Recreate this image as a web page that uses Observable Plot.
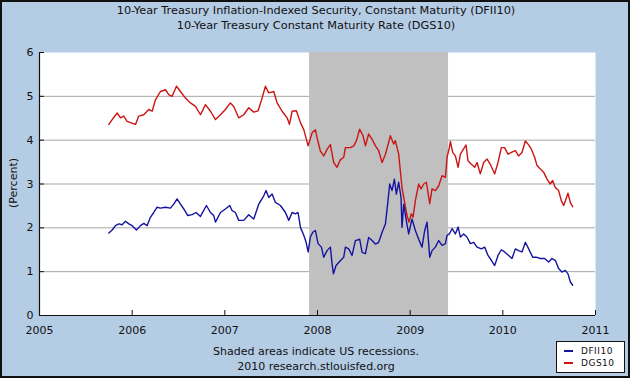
<!DOCTYPE html>
<html><head><meta charset="utf-8">
<script src="https://cdn.jsdelivr.net/npm/d3@7"></script>
<script src="https://cdn.jsdelivr.net/npm/@observablehq/plot@0.6"></script>
<style>
body{margin:0;background:#fff;}
#chart{position:relative;width:630px;height:378px;background:#B5CCE5;font-family:"DejaVu Sans",Verdana,sans-serif;overflow:hidden;color:#111;}
#chart svg{position:absolute;left:0;top:0;}
#border{position:absolute;left:0;top:0;width:630px;height:378px;box-sizing:border-box;border:2px solid #111;pointer-events:none;}
.title{position:absolute;left:0;width:632px;text-align:center;font-size:11.3px;white-space:nowrap;}
.foot{position:absolute;left:0;width:632px;text-align:center;font-size:11px;white-space:nowrap;}
#ylab{position:absolute;left:13px;top:183px;font-size:11px;transform:translate(-50%,-50%) rotate(-90deg);white-space:nowrap;}
#legend{position:absolute;left:556px;top:341px;width:69px;height:32px;box-sizing:border-box;background:#fff;border:1px solid #111;font-size:9px;}
#legend .row{position:absolute;left:0;height:12px;line-height:12px;}
#legend .sw{position:absolute;left:7px;top:5px;width:9px;height:2px;}
#legend .lt{position:absolute;left:24px;top:0;letter-spacing:0.5px;}
</style>
</head><body>
<div id="chart">
  <div class="title" style="top:4px">10-Year Treasury Inflation-Indexed Security, Constant Maturity (DFII10)</div>
  <div class="title" style="top:19px">10-Year Treasury Constant Maturity Rate (DGS10)</div>
  <div id="ylab">(Percent)</div>
  <div class="foot" style="top:345px">Shaded areas indicate US recessions.</div>
  <div class="foot" style="top:360px">2010 research.stlouisfed.org</div>
  <div id="legend">
    <div class="row" style="top:3px"><div class="sw" style="background:#1414A0"></div><div class="lt">DFII10</div></div>
    <div class="row" style="top:15px"><div class="sw" style="background:#CC1414"></div><div class="lt">DGS10</div></div>
  </div>
  <div id="border"></div>
</div>
<script>
const years = [2005, 2006, 2007, 2008, 2009, 2010, 2011];
const yTicks = [0, 1, 2, 3, 4, 5, 6];
const gridValues = [1, 2, 3, 4, 5];
const recessionStart = [2007.915];
const recessionEnd = [2009.414];

const dgs10Dates = [
2005.748,2005.784,2005.838,2005.874,2005.909,2005.946,2005.982,2006.036,2006.071,2006.125,2006.179,2006.216,2006.251,2006.305,2006.359,2006.395,2006.431,2006.478,2006.521,2006.575,2006.629,2006.683,2006.737,2006.791,2006.845,2006.899,2006.953,
2007.006,2007.060,2007.096,2007.150,2007.204,2007.258,2007.312,2007.359,2007.402,2007.438,2007.474,2007.528,2007.564,2007.618,2007.672,2007.697,2007.726,2007.772,2007.816,2007.852,2007.899,2007.942,2007.977,2007.996,2008.031,2008.067,2008.103,2008.139,
2008.175,2008.211,2008.246,2008.283,2008.301,2008.355,2008.391,2008.420,2008.455,2008.492,2008.517,2008.552,2008.589,2008.625,2008.660,2008.697,2008.733,2008.768,2008.786,2008.822,2008.840,2008.876,2008.894,2008.912,2008.937,2008.966,2008.988,2009.013,2009.031,2009.056,2009.092,2009.117,2009.146,2009.175,2009.211,2009.236,2009.272,2009.308,2009.344,
2009.380,2009.398,2009.423,2009.434,2009.459,2009.488,2009.517,2009.542,2009.577,2009.603,2009.624,2009.660,2009.696,2009.722,2009.757,2009.793,2009.830,2009.865,2009.912,2009.948,2009.984,2010.019,2010.056,2010.092,2010.135,2010.170,2010.207,2010.243,2010.272,2010.307,2010.343,2010.369,2010.405,2010.440,2010.477,2010.512,2010.537,2010.566,2010.602,2010.631,2010.656,2010.682,2010.703,2010.728,2010.753];
const dgs10Values = [
4.36,4.47,4.62,4.51,4.55,4.43,4.40,4.36,4.55,4.58,4.70,4.66,4.92,5.11,5.15,5.04,5.00,5.23,5.11,4.96,4.85,4.77,4.58,4.81,4.66,4.47,4.58,
4.70,4.85,4.77,4.51,4.58,4.74,4.64,4.67,4.96,5.23,5.08,5.11,4.85,4.66,4.51,4.36,4.66,4.67,4.40,4.24,3.87,4.17,4.24,4.05,3.75,3.64,3.79,3.90,
3.49,3.38,3.55,3.61,3.83,3.83,3.87,3.99,4.25,4.10,3.87,4.14,4.02,3.87,3.76,3.49,3.68,3.95,4.10,3.91,3.99,3.68,3.30,2.92,2.62,2.28,2.13,2.32,2.24,2.62,3.00,2.89,3.00,3.04,2.55,2.89,2.85,2.96,3.19,
3.15,3.61,3.83,3.97,3.72,3.64,3.38,3.68,3.80,3.89,3.53,3.45,3.38,3.49,3.23,3.49,3.57,3.45,3.23,3.49,3.83,3.83,3.68,3.72,3.76,3.64,3.72,3.98,3.91,3.80,3.61,3.42,3.34,3.27,3.11,3.00,3.08,2.92,2.85,2.62,2.51,2.66,2.79,2.58,2.48];

const dfii10Dates = [
2005.748,2005.784,2005.820,2005.856,2005.892,2005.928,2005.964,2006.000,2006.046,2006.090,2006.126,2006.161,2006.197,2006.233,2006.269,2006.305,2006.359,2006.413,2006.449,2006.485,2006.521,2006.557,2006.600,2006.647,2006.690,2006.737,2006.801,2006.845,2006.880,
2006.899,2006.953,2007.006,2007.053,2007.079,2007.114,2007.150,2007.204,2007.258,2007.312,2007.366,2007.420,2007.445,2007.474,2007.510,2007.546,2007.600,2007.654,2007.690,2007.726,2007.762,2007.790,2007.816,2007.852,2007.877,2007.899,2007.923,2007.949,2007.977,2008.006,2008.042,2008.067,2008.103,2008.139,
2008.157,2008.172,2008.200,2008.246,2008.283,2008.301,2008.337,2008.373,2008.409,2008.455,2008.481,2008.517,2008.552,2008.589,2008.625,2008.660,2008.697,2008.733,2008.757,2008.779,2008.804,2008.830,2008.851,2008.876,2008.901,2008.912,2008.930,2008.959,2008.984,2009.020,2009.056,2009.092,2009.128,2009.157,2009.182,2009.211,2009.236,2009.272,2009.308,2009.344,
2009.380,2009.398,2009.423,2009.452,2009.488,2009.517,2009.542,2009.577,2009.613,2009.649,2009.685,2009.722,2009.768,2009.804,2009.840,2009.876,2009.912,2009.948,2009.984,2010.019,2010.063,2010.099,2010.135,2010.170,2010.207,2010.243,2010.279,2010.322,2010.358,2010.405,2010.451,2010.494,2010.530,2010.566,2010.602,2010.638,2010.674,2010.703,2010.728,2010.753];
const dfii10Values = [
1.88,1.95,2.05,2.09,2.07,2.15,2.09,2.05,1.95,2.05,2.10,2.05,2.24,2.35,2.47,2.45,2.47,2.45,2.54,2.66,2.54,2.43,2.28,2.30,2.35,2.26,2.51,2.35,2.28,
2.13,2.35,2.43,2.51,2.39,2.35,2.17,2.17,2.30,2.20,2.54,2.73,2.85,2.69,2.77,2.58,2.51,2.35,2.17,2.35,2.32,2.35,2.01,1.83,1.67,1.45,1.79,1.90,1.94,1.64,1.56,1.33,1.48,1.56,
1.18,0.95,1.14,1.25,1.33,1.56,1.52,1.37,1.71,1.74,1.44,1.41,1.78,1.71,1.63,1.67,1.90,2.09,2.54,3.00,2.85,3.11,2.77,3.04,2.70,2.01,2.54,2.16,1.86,2.20,1.94,1.74,1.56,1.94,2.13,1.33,1.48,1.56,1.71,1.60,
1.64,1.83,1.86,1.98,1.86,2.02,1.79,1.86,1.79,1.64,1.67,1.56,1.52,1.56,1.37,1.26,1.14,1.37,1.50,1.45,1.37,1.30,1.52,1.48,1.45,1.67,1.52,1.33,1.33,1.30,1.30,1.22,1.30,1.26,1.07,0.99,1.03,0.95,0.77,0.69];

const dgs10 = dgs10Dates.map((d, i) => ({date: d, value: dgs10Values[i]}));
const dfii10 = dfii10Dates.map((d, i) => ({date: d, value: dfii10Values[i]}));
const recessions = recessionStart.map((s, i) => ({start: s, end: recessionEnd[i]}));

const svg = Plot.plot({
  width: 630, height: 378,
  marginLeft: 39, marginRight: 35, marginTop: 52, marginBottom: 63,
  style: {background: "transparent", fontFamily: "'DejaVu Sans', Verdana, sans-serif", fontSize: "11px", color: "#111", overflow: "visible"},
  x: {domain: [2005, 2011]},
  y: {domain: [0, 6]},
  marks: [
    Plot.frame({fill: "white", stroke: null}),
    Plot.ruleY(gridValues, {stroke: "#A6A6A6", strokeWidth: 1}),
    Plot.rect(recessions, {x1: "start", x2: "end", fill: "#C0C0C0"}),
    Plot.line(dgs10, {x: "date", y: "value", stroke: "#CC1414", strokeWidth: 1.4}),
    Plot.line(dfii10, {x: "date", y: "value", stroke: "#1414A0", strokeWidth: 1.4}),
    Plot.ruleX([years[0]], {stroke: "#111", strokeWidth: 1.2}),
    Plot.ruleY([yTicks[0]], {stroke: "#111", strokeWidth: 1.2}),
    Plot.axisX(years, {tickSize: -5, tickFormat: () => "", stroke: "#111", label: null}),
    Plot.axisX(years, {tickSize: 0, tickPadding: 11, tickFormat: d => String(d), fill: "#111", label: null}),
    Plot.axisY(yTicks, {tickSize: -5, tickFormat: () => "", stroke: "#111", label: null}),
    Plot.axisY(yTicks, {tickSize: 0, tickPadding: 6, tickFormat: d => String(d), fill: "#111", label: null})
  ]
});
document.getElementById("chart").insertBefore(svg, document.getElementById("border"));
</script>
</body></html>
